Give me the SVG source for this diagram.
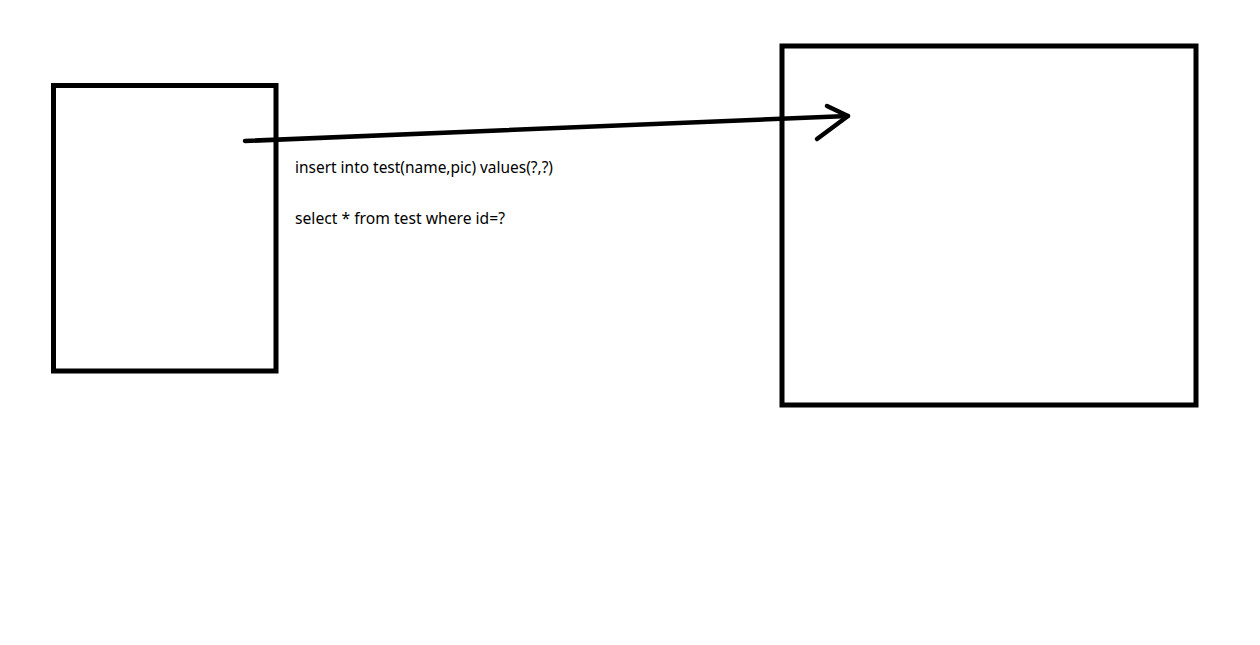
<svg xmlns="http://www.w3.org/2000/svg" width="1260" height="645" viewBox="0 0 1260 645">
<style>
.box{fill:none;stroke:#000;stroke-width:5}
.ln{fill:none;stroke:#000;stroke-width:4.5;stroke-linecap:round;stroke-linejoin:round}
.t{font-family:"Noto Sans","Liberation Sans",sans-serif;font-size:15.5px;fill:#000}
</style>
<rect width="1260" height="645" fill="#fff"/>
<g id="client"><rect class="box" x="53.5" y="85.5" width="222.5" height="285.5"/></g>
<g id="database"><rect class="box" x="782" y="46" width="414" height="359"/></g>
<g id="connectors">
<path class="ln" d="M245 141 L848 116"/>
<path class="ln" d="M827 106 L848 116 L817 139"/>
</g>
<g id="labels">
<text class="t" x="295" y="173" textLength="258" lengthAdjust="spacingAndGlyphs">insert into test(name,pic) values(?,?)</text>
<text class="t" x="295" y="224" textLength="210" lengthAdjust="spacingAndGlyphs">select * from test where id=?</text>
</g>
</svg>
